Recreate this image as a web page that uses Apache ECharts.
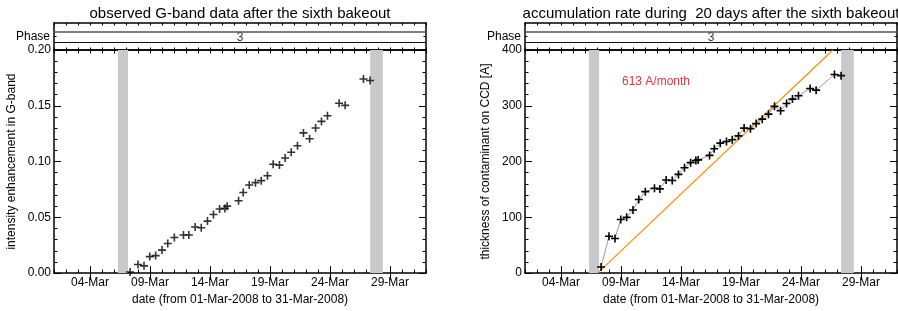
<!DOCTYPE html>
<html><head><meta charset="utf-8">
<script src="https://cdn.jsdelivr.net/npm/echarts@6/dist/echarts.min.js"></script>
<style>html,body{margin:0;padding:0;background:#fff}#c{width:898px;height:311px}</style>
</head><body><div id="c"></div>
<script>
// observation times, day-of-March (01-Mar 00:00 = 1.0)
const obsDays = [7.34, 8.0, 8.5, 8.98, 9.47, 10.0, 10.48, 11.03, 11.79, 12.24, 12.76, 13.27, 13.79, 14.29, 14.8, 15.24, 15.43, 16.38, 16.77, 17.27, 17.79, 18.27, 18.79, 19.26, 19.79, 20.26, 20.77, 21.29, 21.79, 22.3, 22.8, 23.29, 23.79, 24.76, 25.26, 26.79, 27.34];
// left: intensity enhancement in G-band
const gBand = [0.001, 0.0077, 0.0065, 0.0148, 0.0157, 0.0206, 0.0265, 0.0319, 0.0342, 0.0342, 0.0413, 0.0407, 0.0466, 0.0525, 0.0575, 0.058, 0.060, 0.0649, 0.0723, 0.079, 0.0811, 0.0829, 0.0873, 0.0976, 0.0968, 0.1032, 0.1083, 0.1142, 0.1257, 0.1204, 0.1301, 0.136, 0.141, 0.1522, 0.1504, 0.174, 0.1726];
// right: thickness of contaminant on CCD [A]
const thickness = [11, 66, 62, 96, 100, 113, 132, 146, 152, 151, 167, 166, 177, 189, 198, 202, 203, 211, 223, 233, 236, 239, 246, 260, 259, 268, 276, 285, 299, 291, 304, 312, 318, 331, 328, 356, 354];
// bakeout (gray) intervals, day-of-March
const bakeoutBands = [[6.33, 7.17], [27.35, 28.4]];
// linear fit endpoints (day, A)
const fitLine = [[7.05, 0], [26.65, 400]];
const fitLabel = '613 A/month';
const dayTickLabels = [4, 9, 14, 19, 24, 29];
const phaseLabel = '3';
const titles = ['observed G-band data after the sixth bakeout', 'accumulation rate during  20 days after the sixth bakeout'];
const yNames = ['intensity enhancement in G-band', 'thickness of contaminant on CCD [A]'];
const xName = 'date (from 01-Mar-2008 to 31-Mar-2008)';

const FONT = 'Liberation Sans, Arial, Helvetica, sans-serif';
const chart = echarts.init(document.getElementById('c'), null, {renderer: 'canvas'});
const dayFmt = v => String(Math.round(v)).padStart(2, '0') + '-Mar';
const cross = 'path://M0,4H10V6H0Z M4,0H6V10H4Z';
const AX = {lineStyle: {color: '#000', width: 1.5}};

const grids = [], xAxes = [], yAxes = [], series = [], graphics = [];
const panels = [
  {left: 54, yMin: 0, yMax: 0.2, yInt: 0.05, yFmt: v => v.toFixed(2), data: gBand, line: false, nameGap: 36},
  {left: 525, yMin: 0, yMax: 400, yInt: 100, yFmt: v => String(v), data: thickness, line: true, nameGap: 33}
];
const W = 372, PT = 23, PH = 27, GT = 50, GH = 225;

panels.forEach((p, i) => {
  const gPhase = grids.length;
  grids.push({left: p.left, top: PT, width: W, height: PH});
  const gPlot = grids.length;
  grids.push({left: p.left, top: GT, width: W, height: GH});
  const baseX = {type: 'value', min: 1, max: 32, splitLine: {show: false}, axisLine: {show: true, onZero: false, ...AX}};
  // phase panel axes
  xAxes.push({...baseX, gridIndex: gPhase, position: 'top', interval: 1,
    axisTick: {inside: true, length: 2.5, lineStyle: {color: '#000'}}, axisLabel: {show: false}});
  xAxes.push({...baseX, gridIndex: gPhase, position: 'bottom', interval: 1,
    axisTick: {inside: true, length: 2.5, lineStyle: {color: '#000'}}, axisLabel: {show: false}});
  // plot bottom: day ticks + labels
  const xMainIdx = xAxes.length;
  xAxes.push({...baseX, gridIndex: gPlot, position: 'bottom', interval: 1,
    axisTick: {inside: true, length: 3.5, lineStyle: {color: '#000'}},
    axisLabel: {customValues: dayTickLabels, formatter: dayFmt, color: '#000', fontSize: 12, fontFamily: FONT, margin: 4},
    name: xName, nameLocation: 'middle', nameGap: 19, nameTextStyle: {color: '#000', fontSize: 12, fontFamily: FONT}});
  xAxes.push({...baseX, gridIndex: gPlot, position: 'bottom', axisLine: {show: false},
    axisTick: {inside: true, length: 7, customValues: dayTickLabels, lineStyle: {color: '#000'}}, axisLabel: {show: false}});
  xAxes.push({...baseX, gridIndex: gPlot, position: 'top', interval: 1,
    axisTick: {inside: true, length: 3.5, lineStyle: {color: '#000'}}, axisLabel: {show: false}});
  xAxes.push({...baseX, gridIndex: gPlot, position: 'top', axisLine: {show: false},
    axisTick: {inside: true, length: 7, customValues: dayTickLabels, lineStyle: {color: '#000'}}, axisLabel: {show: false}});

  const yPhaseIdx = yAxes.length;
  yAxes.push({type: 'value', gridIndex: gPhase, min: 0, max: 1, position: 'left', splitLine: {show: false}, axisLine: {show: true, onZero: false, ...AX},
    axisTick: {inside: true, length: 2.5, customValues: [0.5], lineStyle: {color: '#000'}},
    axisLabel: {customValues: [0.5], formatter: () => 'Phase', color: '#000', fontSize: 12, fontFamily: FONT, margin: 4}});
  yAxes.push({type: 'value', gridIndex: gPhase, min: 0, max: 1, position: 'right', splitLine: {show: false}, axisLine: {show: true, onZero: false, ...AX},
    axisTick: {inside: true, length: 2.5, customValues: [0.5], lineStyle: {color: '#000'}}, axisLabel: {show: false}});
  const yPlotIdx = yAxes.length;
  const baseY = {type: 'value', gridIndex: gPlot, min: p.yMin, max: p.yMax, interval: p.yInt, splitLine: {show: false},
    axisLine: {show: true, onZero: false, ...AX},
    axisTick: {inside: true, length: 7, lineStyle: {color: '#000'}},
    minorTick: {show: true, splitNumber: 5, length: 3.5, lineStyle: {color: '#000'}}, minorSplitLine: {show: false}};
  yAxes.push({...baseY, position: 'left',
    axisLabel: {formatter: p.yFmt, color: '#000', fontSize: 12, fontFamily: FONT, margin: 3},
    name: yNames[i], nameLocation: 'middle', nameGap: p.nameGap, nameTextStyle: {color: '#000', fontSize: 12, fontFamily: FONT}});
  yAxes.push({...baseY, position: 'right', axisLabel: {show: false}});

  // phase panel content
  series.push({type: 'scatter', xAxisIndex: xMainIdx - 2, yAxisIndex: yPhaseIdx, data: [[16.5, 0.47]], symbolSize: 0, silent: true,
    label: {show: true, position: 'inside', formatter: phaseLabel, color: '#000', fontSize: 12, fontFamily: FONT},
    markLine: {silent: true, symbol: 'none', label: {show: false},
      data: [{yAxis: 0.69, lineStyle: {color: '#555', width: 1.5, type: 'solid'}}, {yAxis: 0.285, lineStyle: {color: '#111', width: 1, type: 'solid'}}]}});

  // plot content
  const pts = obsDays.map((d, k) => [d, p.data[k]]);
  series.push({type: p.line ? 'line' : 'scatter', xAxisIndex: xMainIdx, yAxisIndex: yPlotIdx, data: pts,
    symbol: cross, symbolSize: 8, showSymbol: true, itemStyle: {color: '#000'}, z: 5,
    lineStyle: {color: '#9a9a9a', width: 1},
    markArea: {silent: true, itemStyle: {color: '#c9c9cb', opacity: 1},
      data: bakeoutBands.map(b => [{xAxis: b[0]}, {xAxis: b[1]}])}});
  if (p.line) {
    series.push({type: 'line', xAxisIndex: xMainIdx, yAxisIndex: yPlotIdx, data: fitLine, symbol: 'none', z: 3,
      lineStyle: {color: '#ff8c00', width: 1.2}});
  }
  graphics.push({type: 'text', x: p.left + W / 2, y: 14, silent: true,
    style: {text: titles[i], fill: '#000', fontSize: 15, fontFamily: FONT, align: 'center', verticalAlign: 'middle'}});
});
graphics.push({type: 'text', x: 622, y: 82, silent: true,
  style: {text: fitLabel, fill: '#e8333f', fontSize: 12, fontFamily: FONT, align: 'left', verticalAlign: 'middle'}});

chart.setOption({animation: false, backgroundColor: '#fff', grid: grids, xAxis: xAxes, yAxis: yAxes, series, graphic: graphics});
</script></body></html>
